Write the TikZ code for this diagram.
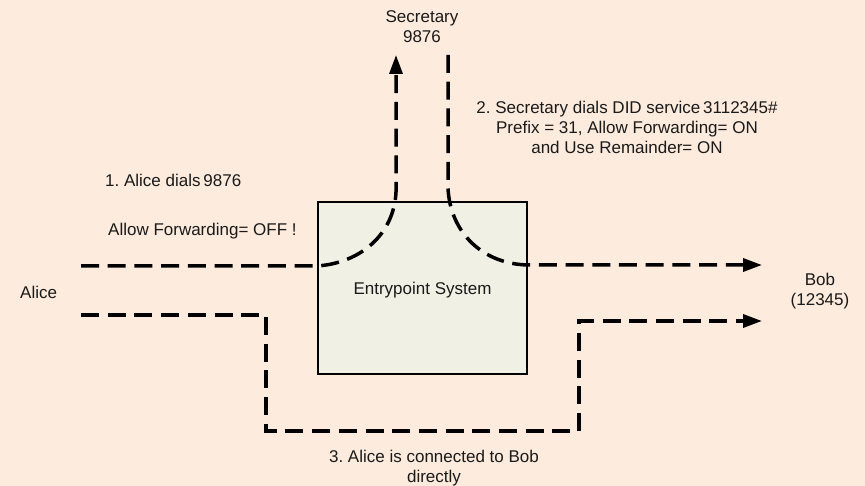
\documentclass[tikz,border=0pt]{standalone}
\usepackage{fontspec}
\setmainfont{Liberation Sans}
\usetikzlibrary{arrows.meta, positioning}
\definecolor{bgpeach}{HTML}{FDEBDD}
\definecolor{boxfill}{HTML}{F0F0E4}
\definecolor{txtdark}{HTML}{1A1A1A}
\frenchspacing

\begin{document}
\begin{tikzpicture}[x=1pt, y=-1pt,
    every node/.style={font=\fontsize{17}{20}\selectfont, text=txtdark, inner sep=0pt, align=center},
    callpath/.style={line width=3.5pt, dash pattern=on 18pt off 8.7pt, -{Triangle[length=19pt, width=13pt]}},
    sysbox/.style={draw, line width=2pt, fill=boxfill, minimum width=209pt, minimum height=172pt, text depth=-6pt}]
    % ==========================================
    % SFONDO E DIMENSIONI
    % ==========================================
    \fill [bgpeach] (0,0) rectangle (865,486);
    \useasboundingbox (0,0) rectangle (865,486);

    % ==========================================
    % SISTEMA E ETICHETTE
    % ==========================================
    \node [sysbox] (eps) at (422.5,288) {Entrypoint System};

    \node (secretary) at (422,27) {Secretary\\9876};
    \node [anchor=west] (alice) at (20,292) {Alice};
    \node (bob) at (820,291) {Bob\\(12345)};

    \node [anchor=west] (step1) at (105,180) {1. Alice dials\,9876};
    \node [anchor=west] (nofwd) at (108,231) {Allow Forwarding= OFF !};
    \node (step2) at (627,127) {2. Secretary dials DID service\,3112345\#\\Prefix = 31, Allow Forwarding= ON\\and Use Remainder= ON};
    \node (step3) at (434,468) {3. Alice is connected to Bob\\directly};

    % ==========================================
    % ESTREMI DEI PERCORSI
    % ==========================================
    \coordinate (aliceHi) at (81,266);
    \coordinate (aliceLo) at (81,315);
    \coordinate (secIn) at (396,55);
    \coordinate (secOut) at (448,55);
    \coordinate (bobHi) at (762,265);
    \coordinate (bobLo) at (762,321);

    % ==========================================
    % PERCORSI DELLE CHIAMATE
    % ==========================================
    % Alice -> Secretary
    \draw [callpath] (aliceHi) -- (eps.west |- aliceHi)
        .. controls +(44,-3) and +(-2,42) .. (396,192) -- (secIn);

    % Secretary -> Bob
    \draw [callpath] (secOut) -- (448,188)
        .. controls +(2,44) and +(-46,-1) .. (eps.east |- bobHi) -- (bobHi);

    % Alice -> Bob (connessione diretta)
    \draw [callpath] (aliceLo) -- (266,315) |- (579,431) |- (bobLo);

\end{tikzpicture}
\end{document}
